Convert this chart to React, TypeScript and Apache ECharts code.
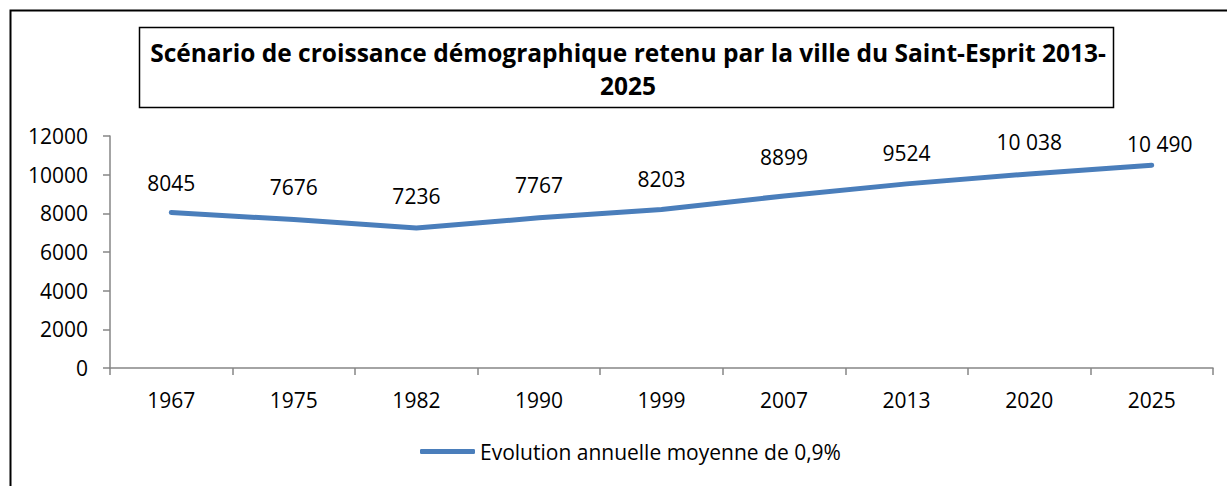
import React, { useEffect, useRef } from "react";
import * as echarts from "echarts";

const titleText =
  "Scénario de croissance démographique retenu par la ville du Saint-Esprit 2013-\n2025";
const seriesName = "Evolution annuelle moyenne de 0,9%";
const years = ["1967", "1975", "1982", "1990", "1999", "2007", "2013", "2020", "2025"];
const population = [8045, 7676, 7236, 7767, 8203, 8899, 9524, 10038, 10490];
const yTicks = { min: 0, max: 12000, interval: 2000 };

// label placement tweaks (distance above the point, horizontal shift)
const labelDistances = [19, 22, 22, 22, 20, 28, 20, 21, 11];
const labelShiftX = [0, 0, 0, 0, 0, 0, 0, 0, 8];

const FONT = "'Open Sans', 'Noto Sans', sans-serif";

function formatValue(v: number): string {
  const s = String(v);
  if (v >= 10000) return s.slice(0, s.length - 3) + " " + s.slice(s.length - 3);
  return s;
}

export default function App() {
  const ref = useRef<HTMLDivElement>(null);
  useEffect(() => {
    if (!ref.current) return;
    const chart = echarts.init(ref.current, undefined, { renderer: "svg" });
    const data = population.map((v, i) => ({
      value: v,
      label: { distance: labelDistances[i], offset: [labelShiftX[i], 0] },
    }));
    chart.setOption({
      animation: false,
      backgroundColor: "#ffffff",
      textStyle: { fontFamily: FONT },
      title: {
        text: titleText,
        left: 623,
        top: 31,
        textAlign: "center",
        textStyle: {
          fontFamily: FONT,
          fontSize: 24.5,
          fontWeight: "bold",
          color: "#000",
          lineHeight: 33,
        },
      },
      graphic: [
        {
          type: "rect",
          shape: { x: 10.5, y: 10.5, width: 1240, height: 520 },
          style: { fill: "none", stroke: "#000", lineWidth: 2 },
          silent: true,
        },
        {
          type: "rect",
          shape: { x: 139.5, y: 27.5, width: 974, height: 80 },
          style: { fill: "none", stroke: "#000", lineWidth: 1.5 },
          silent: true,
          z: -1,
        },
      ],
      legend: {
        left: 420,
        top: 441,
        padding: 0,
        data: [{ name: seriesName, icon: "roundRect" }],
        itemWidth: 55,
        itemHeight: 5,
        itemGap: 5,
        textStyle: { fontFamily: FONT, fontSize: 21, color: "#000" },
      },
      grid: { left: 110, right: 14, top: 136, bottom: 118, containLabel: false },
      xAxis: {
        type: "category",
        data: years,
        boundaryGap: true,
        axisLine: { lineStyle: { color: "#868686", width: 1.5 } },
        axisTick: { show: true, length: 7, lineStyle: { color: "#868686", width: 1.5 } },
        axisLabel: { fontFamily: FONT, fontSize: 21, color: "#000", margin: 21 },
        splitLine: { show: false },
      },
      yAxis: {
        type: "value",
        min: yTicks.min,
        max: yTicks.max,
        interval: yTicks.interval,
        axisLine: { show: true, lineStyle: { color: "#868686", width: 1.5 } },
        axisTick: { show: true, length: 7, lineStyle: { color: "#868686", width: 1.5 } },
        axisLabel: {
          fontFamily: FONT,
          fontSize: 21,
          color: "#000",
          margin: 22,
          formatter: (v: number) => String(v),
        },
        splitLine: { show: false },
      },
      series: [
        {
          name: seriesName,
          type: "line",
          data,
          symbol: "circle",
          symbolSize: 0.01,
          showSymbol: true,
          lineStyle: { color: "#4A7EBB", width: 5, cap: "round", join: "round" },
          itemStyle: { color: "#4A7EBB" },
          label: {
            show: true,
            position: "top",
            fontFamily: FONT,
            fontSize: 21,
            color: "#000",
            formatter: (p: any) => formatValue(p.value),
          },
        },
      ],
    });
    return () => chart.dispose();
  }, []);
  return (
    <div
      ref={ref}
      style={{ position: "fixed", left: 0, top: 0, width: 1227, height: 486 }}
    />
  );
}
